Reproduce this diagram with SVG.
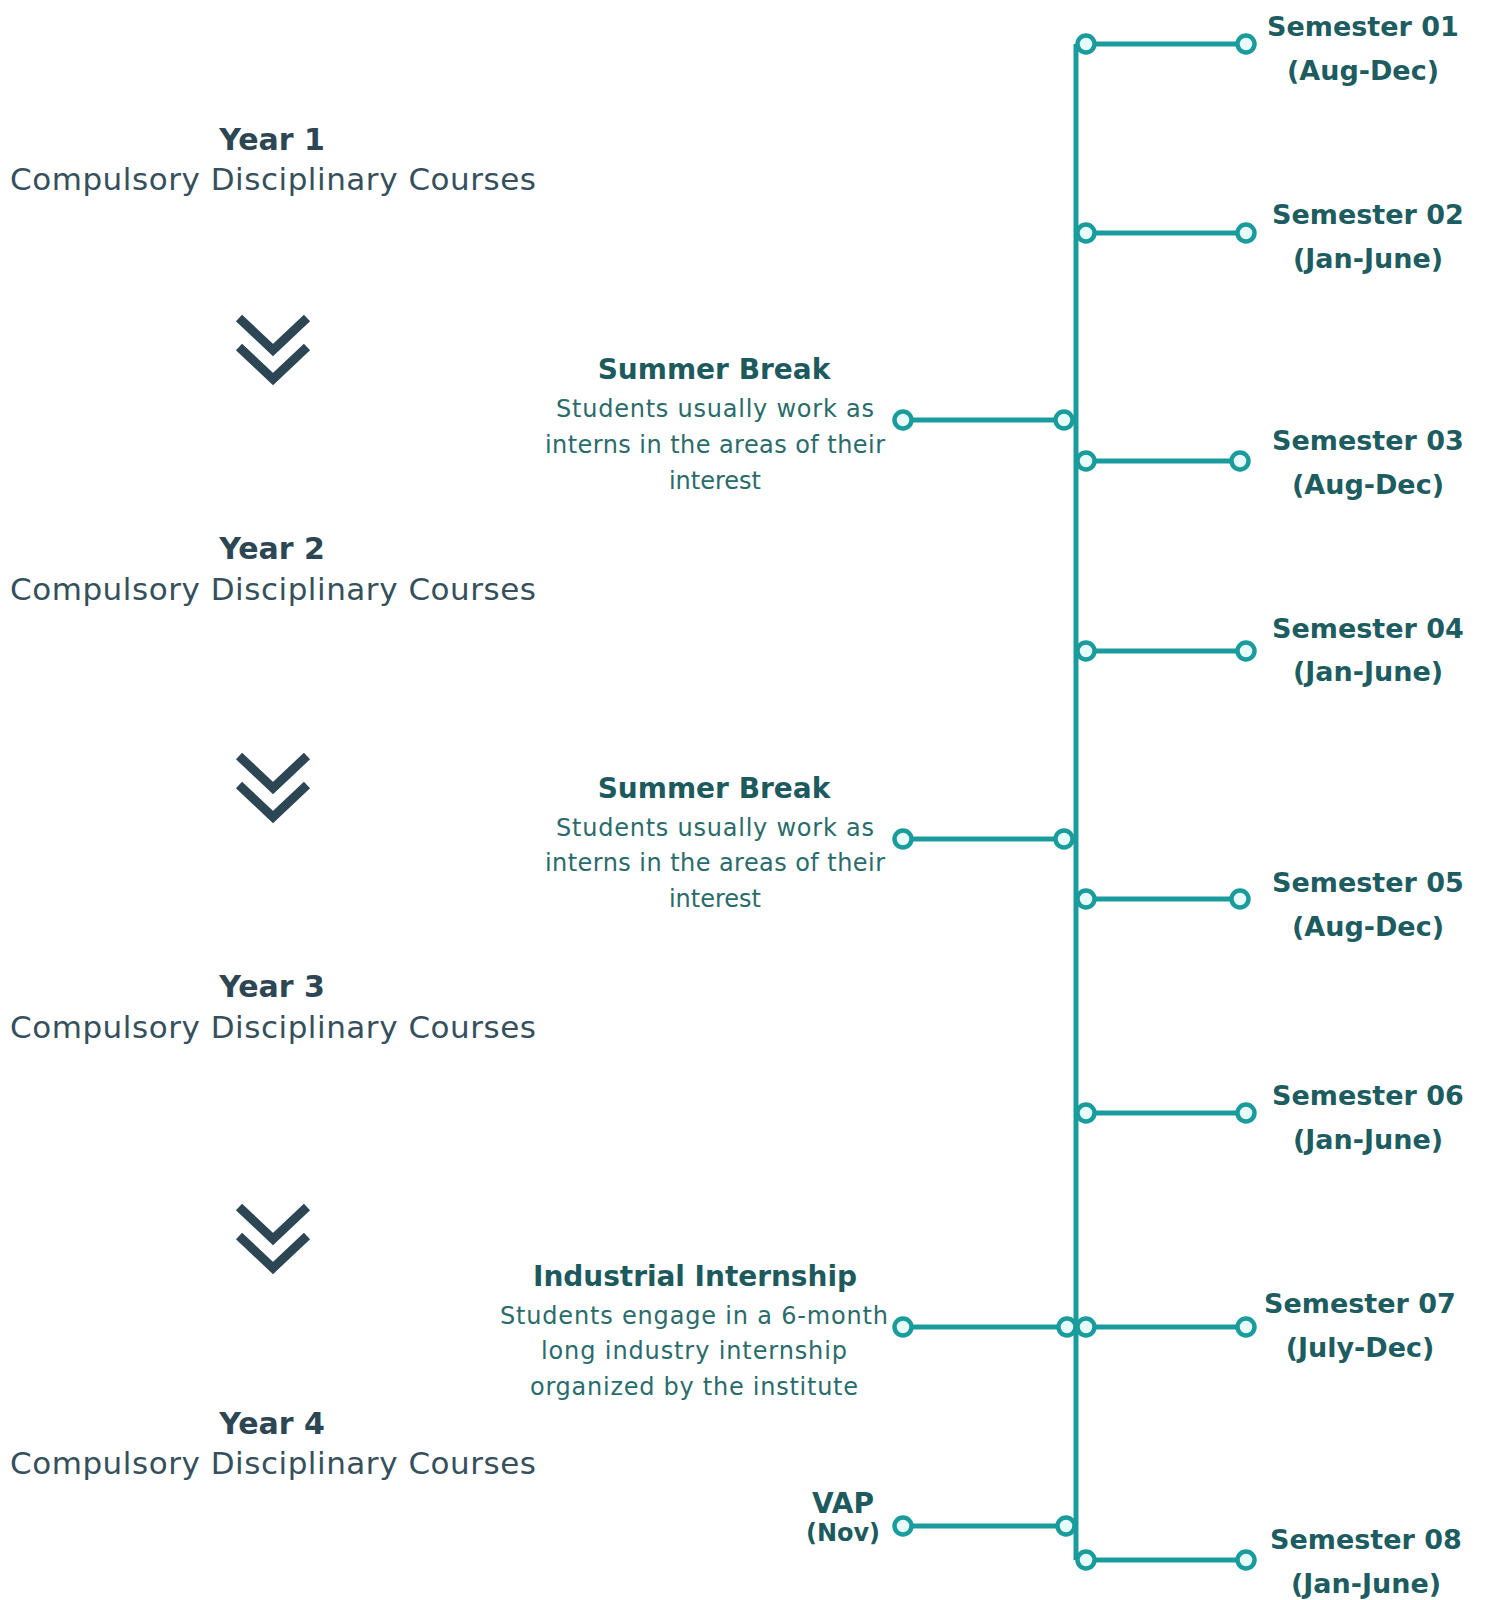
<svg xmlns="http://www.w3.org/2000/svg" width="1488" height="1600" viewBox="0 0 1488 1600">
<style>
.year{font-family:"DejaVu Sans",sans-serif;font-weight:700;font-size:30px;fill:#2d4653;text-anchor:middle}
.course{font-family:"DejaVu Sans",sans-serif;font-size:31px;fill:#35505c;text-anchor:middle}
.sem{font-family:"DejaVu Sans",sans-serif;font-weight:700;font-size:27px;fill:#1d5c60;text-anchor:middle}
.ttl{font-family:"DejaVu Sans",sans-serif;font-weight:700;font-size:28px;fill:#1d5a5e;text-anchor:middle}
.body{font-family:"DejaVu Sans",sans-serif;font-size:24px;fill:#2a6b6b;text-anchor:middle}
.ln{stroke:#1a9c9c;stroke-width:5;fill:none}
.dot{stroke:#1a9c9c;stroke-width:4.5;fill:#e8fbfb}
.chev{stroke:#2c4654;stroke-width:9;fill:none;stroke-linecap:butt;stroke-linejoin:miter}
</style>
<rect width="1488" height="1600" fill="#ffffff"/>
<g id="connectors">
<line class="ln" x1="1076" y1="44" x2="1076" y2="1560"/>
<line class="ln" x1="1086" y1="44" x2="1246" y2="44"/>
<line class="ln" x1="1086" y1="233" x2="1246" y2="233"/>
<line class="ln" x1="1086" y1="461" x2="1240" y2="461"/>
<line class="ln" x1="1086" y1="651" x2="1246" y2="651"/>
<line class="ln" x1="1086" y1="899" x2="1240" y2="899"/>
<line class="ln" x1="1086" y1="1113" x2="1246" y2="1113"/>
<line class="ln" x1="1086" y1="1327" x2="1246" y2="1327"/>
<line class="ln" x1="1086" y1="1560" x2="1246" y2="1560"/>
<line class="ln" x1="903" y1="420" x2="1064" y2="420"/>
<line class="ln" x1="903" y1="839" x2="1064" y2="839"/>
<line class="ln" x1="903" y1="1327" x2="1064" y2="1327"/>
<line class="ln" x1="903" y1="1526" x2="1064" y2="1526"/>
<g id="dots">
<circle class="dot" cx="1086" cy="44" r="8.5"/><circle class="dot" cx="1246" cy="44" r="8.5"/>
<circle class="dot" cx="1086" cy="233" r="8.5"/><circle class="dot" cx="1246" cy="233" r="8.5"/>
<circle class="dot" cx="1086" cy="461" r="8.5"/><circle class="dot" cx="1240" cy="461" r="8.5"/>
<circle class="dot" cx="1086" cy="651" r="8.5"/><circle class="dot" cx="1246" cy="651" r="8.5"/>
<circle class="dot" cx="1086" cy="899" r="8.5"/><circle class="dot" cx="1240" cy="899" r="8.5"/>
<circle class="dot" cx="1086" cy="1113" r="8.5"/><circle class="dot" cx="1246" cy="1113" r="8.5"/>
<circle class="dot" cx="1086" cy="1327" r="8.5"/><circle class="dot" cx="1246" cy="1327" r="8.5"/>
<circle class="dot" cx="1086" cy="1560" r="8.5"/><circle class="dot" cx="1246" cy="1560" r="8.5"/>
<circle class="dot" cx="903" cy="420" r="8.5"/><circle class="dot" cx="1064" cy="420" r="8.5"/>
<circle class="dot" cx="903" cy="839" r="8.5"/><circle class="dot" cx="1064" cy="839" r="8.5"/>
<circle class="dot" cx="903" cy="1327" r="8.5"/><circle class="dot" cx="1067" cy="1327" r="8.5"/>
<circle class="dot" cx="903" cy="1526" r="8.5"/><circle class="dot" cx="1066" cy="1526" r="8.5"/>
</g>
</g>
<g id="year1"><text class="year" x="272" y="150">Year 1</text><text class="course" x="273" y="190" textLength="526">Compulsory Disciplinary Courses</text></g>
<g id="year2"><text class="year" x="272" y="559">Year 2</text><text class="course" x="273" y="600" textLength="526">Compulsory Disciplinary Courses</text></g>
<g id="year3"><text class="year" x="272" y="997">Year 3</text><text class="course" x="273" y="1038" textLength="526">Compulsory Disciplinary Courses</text></g>
<g id="year4"><text class="year" x="272" y="1434">Year 4</text><text class="course" x="273" y="1474" textLength="526">Compulsory Disciplinary Courses</text></g>
<g id="chevron1"><polyline class="chev" points="239,318 273,350 307,318"/><polyline class="chev" points="239,347 273,379 307,347"/></g>
<g id="chevron2"><polyline class="chev" points="239,756 273,788 307,756"/><polyline class="chev" points="239,785 273,817 307,785"/></g>
<g id="chevron3"><polyline class="chev" points="239,1207 273,1239 307,1207"/><polyline class="chev" points="239,1236 273,1268 307,1236"/></g>
<g id="summer1"><text class="ttl" x="714" y="379">Summer Break</text><text class="body" x="715" y="417" textLength="318">Students usually work as</text><text class="body" x="715" y="453" textLength="340">interns in the areas of their</text><text class="body" x="715" y="489">interest</text></g>
<g id="summer2"><text class="ttl" x="714" y="798">Summer Break</text><text class="body" x="715" y="836" textLength="318">Students usually work as</text><text class="body" x="715" y="871" textLength="340">interns in the areas of their</text><text class="body" x="715" y="907">interest</text></g>
<g id="internship"><text class="ttl" x="695" y="1286" textLength="324">Industrial Internship</text><text class="body" x="694" y="1324" textLength="388">Students engage in a 6-month</text><text class="body" x="694" y="1359" textLength="306">long industry internship</text><text class="body" x="694" y="1395" textLength="328">organized by the institute</text></g>
<g id="vap"><text class="ttl" x="843" y="1513">VAP</text><text class="ttl" x="843" y="1541" style="font-size:24px">(Nov)</text></g>
<g id="sem01"><text class="sem" x="1363" y="36">Semester 01</text><text class="sem" x="1363" y="80">(Aug-Dec)</text></g>
<g id="sem02"><text class="sem" x="1368" y="224">Semester 02</text><text class="sem" x="1368" y="268">(Jan-June)</text></g>
<g id="sem03"><text class="sem" x="1368" y="450">Semester 03</text><text class="sem" x="1368" y="494">(Aug-Dec)</text></g>
<g id="sem04"><text class="sem" x="1368" y="638">Semester 04</text><text class="sem" x="1368" y="681">(Jan-June)</text></g>
<g id="sem05"><text class="sem" x="1368" y="892">Semester 05</text><text class="sem" x="1368" y="936">(Aug-Dec)</text></g>
<g id="sem06"><text class="sem" x="1368" y="1105">Semester 06</text><text class="sem" x="1368" y="1149">(Jan-June)</text></g>
<g id="sem07"><text class="sem" x="1360" y="1313">Semester 07</text><text class="sem" x="1360" y="1357">(July-Dec)</text></g>
<g id="sem08"><text class="sem" x="1366" y="1549">Semester 08</text><text class="sem" x="1366" y="1593">(Jan-June)</text></g>
</svg>
